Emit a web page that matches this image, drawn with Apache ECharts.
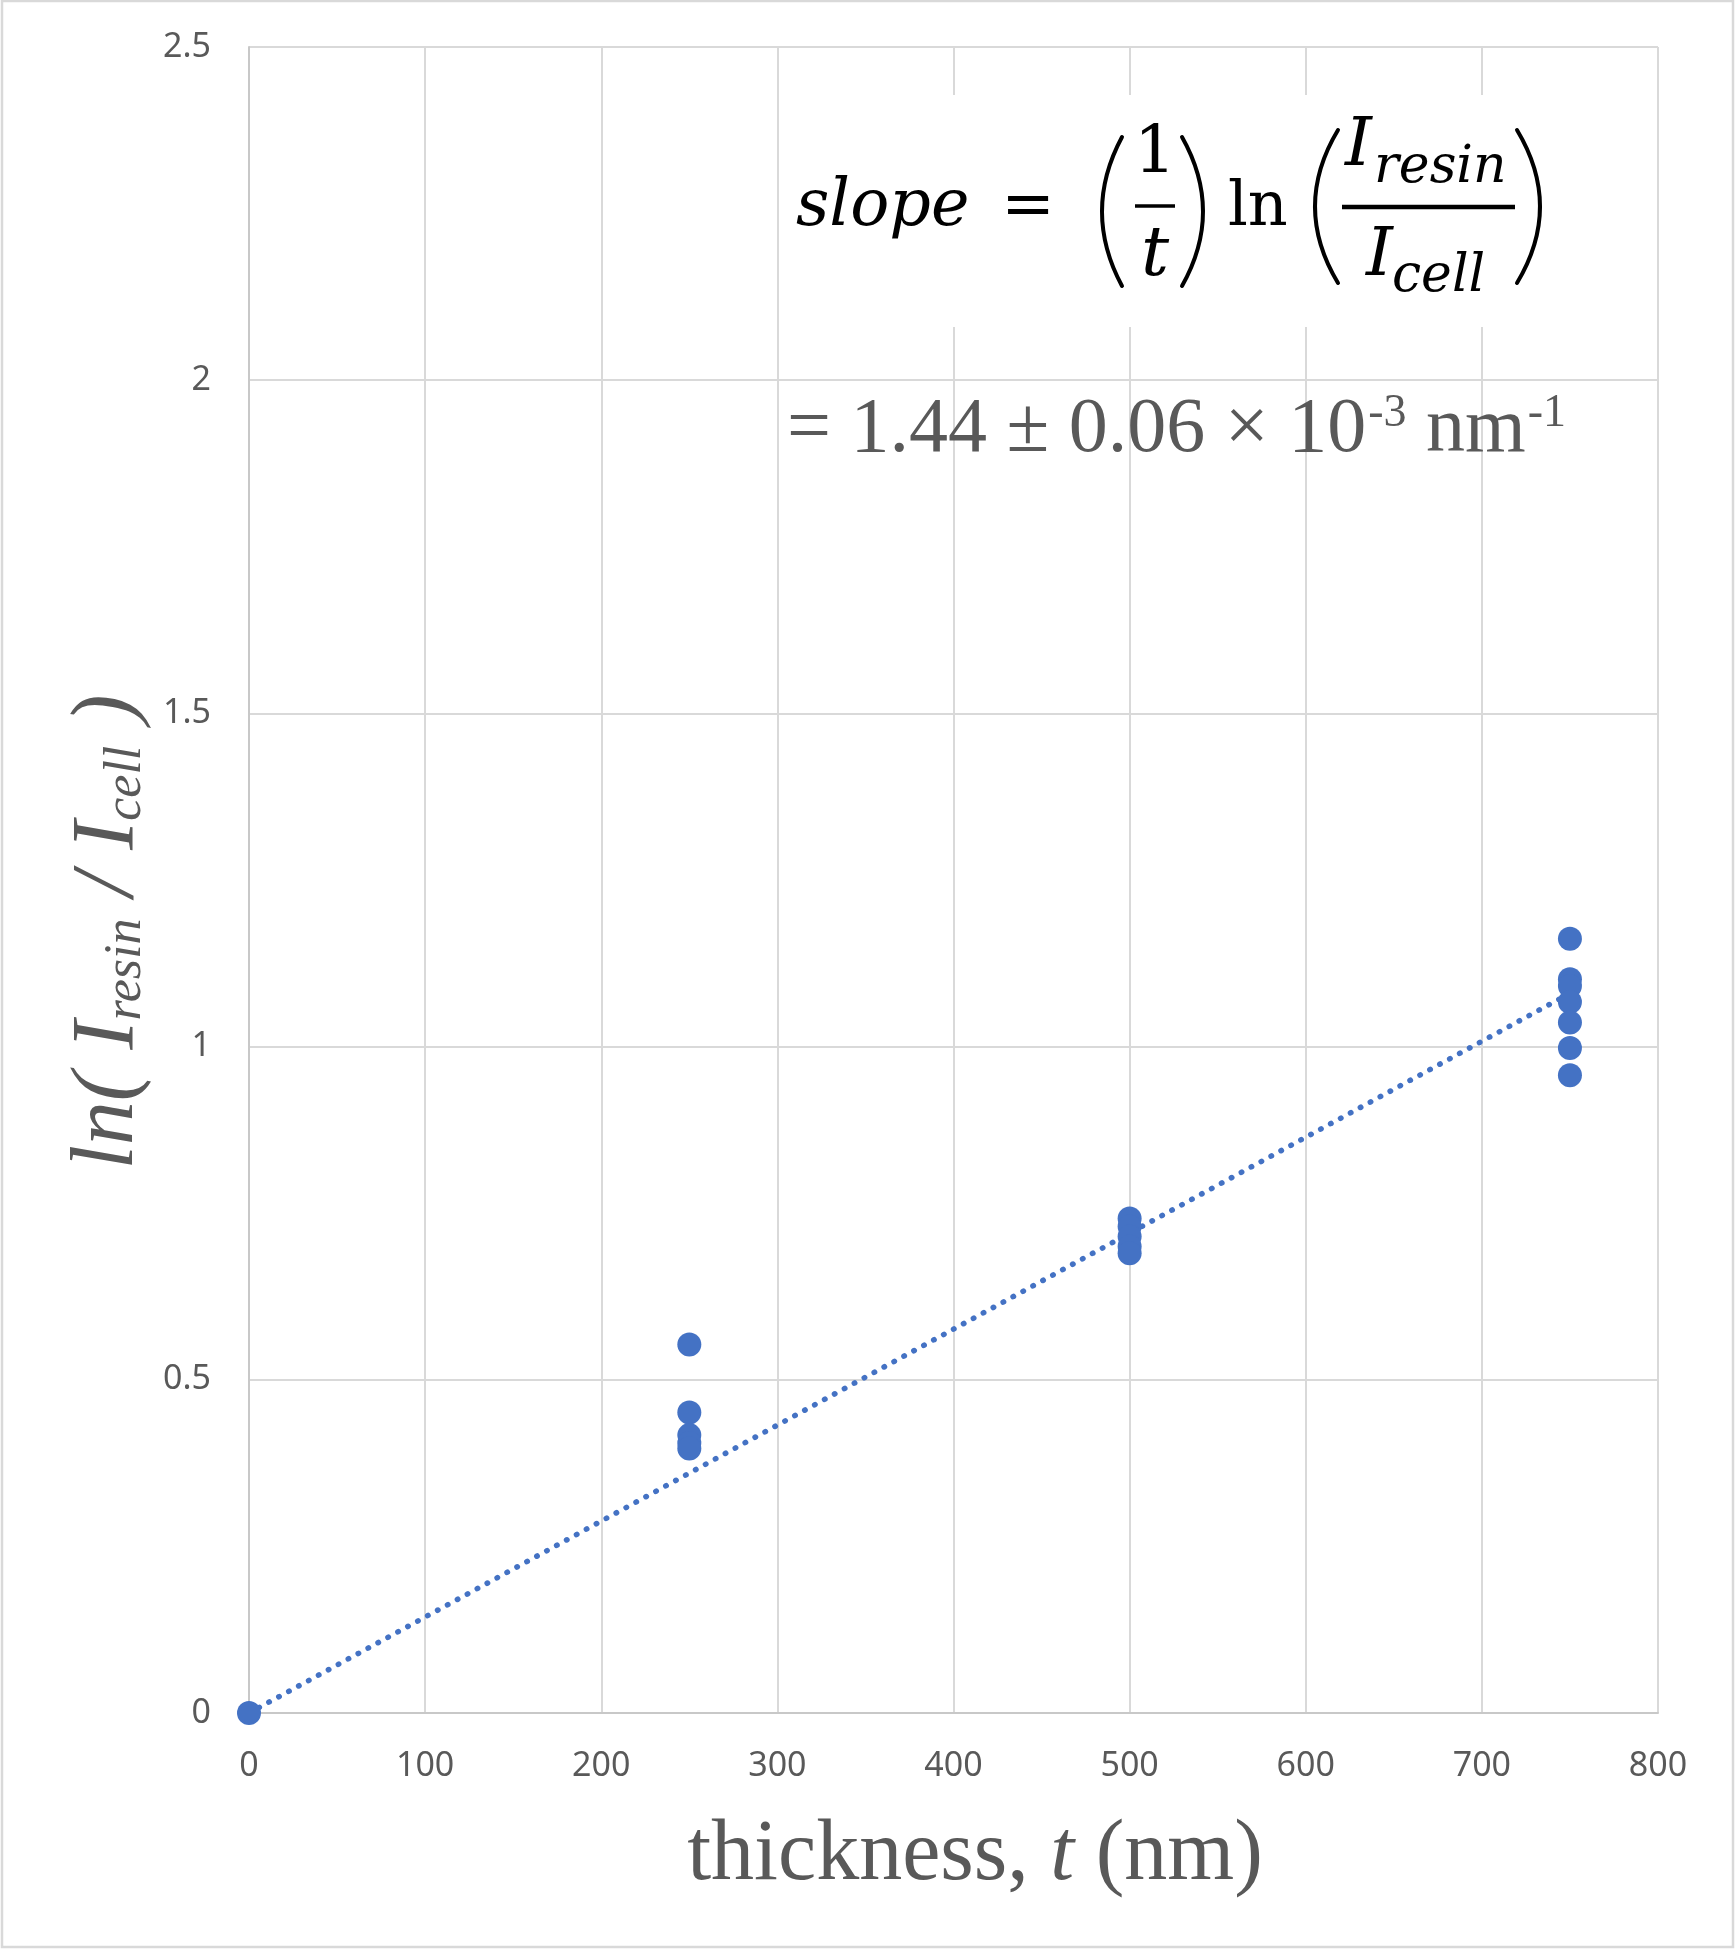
<!DOCTYPE html>
<html>
<head>
<meta charset="utf-8">
<script src="https://cdn.jsdelivr.net/npm/echarts@6/dist/echarts.min.js"></script>
<style>
  * { margin: 0; padding: 0; }
  body { background: #fff; }
  #chart { width: 1736px; height: 1950px; }
</style>
</head>
<body>
<div id="chart"></div>
<script>
// measured points: thickness (nm) vs ln(I_resin / I_cell)
var thickness = [0,
  250, 250, 250, 250, 250,
  500, 500, 500, 500, 500,
  750, 750, 750, 750, 750, 750, 750];
var lnRatio = [0,
  0.553, 0.451, 0.417, 0.405, 0.397,
  0.742, 0.730, 0.715, 0.700, 0.690,
  1.162, 1.101, 1.091, 1.067, 1.036, 0.998, 0.957];

// linear fit through origin (end points)
var trendX = [0, 750];
var trendY = [0, 1.08];

var blue = '#4472C4';
var grey = '#595959';

var chart = echarts.init(document.getElementById('chart'));

// text width helper for laying out the formula pieces
var ctx = document.createElement('canvas').getContext('2d');
function tw(text, font) {
  ctx.font = font;
  return ctx.measureText(text).width;
}
// y for verticalAlign middle so the baseline sits on "base"
function mid(base, size) {
  return base - 0.34 * size;
}

function txt(x, base, text, size, opts) {
  opts = opts || {};
  var font = (opts.italic ? 'italic ' : '') + size + 'px ' + (opts.family || '"DejaVu Serif"');
  return {
    type: 'text', z: 20,
    x: x, y: mid(base, size),
    style: {
      text: text, font: font,
      fill: opts.color || '#000',
      align: opts.align || 'left', verticalAlign: 'middle',
      textAlign: opts.align || 'left', textVerticalAlign: 'middle'
    }
  };
}

function paren(xEnd, xMid, top, bottom) {
  return {
    type: 'bezierCurve', z: 20,
    shape: { x1: xEnd, y1: top, x2: xEnd, y2: bottom, cpx1: 2 * xMid - xEnd, cpy1: (top + bottom) / 2 },
    style: { stroke: '#000', lineWidth: 4, fill: null, lineCap: 'round' }
  };
}

function bar(x1, x2, y, w) {
  return {
    type: 'line', z: 20,
    shape: { x1: x1, y1: y, x2: x2, y2: y },
    style: { stroke: '#000', lineWidth: w }
  };
}

var graphics = [];

// outer chart border
graphics.push({
  type: 'rect', z: 1, silent: true,
  shape: { x: 2, y: 1, width: 1731, height: 1946 },
  style: { fill: null, stroke: '#d9d9d9', lineWidth: 2.5 }
});

// white box behind the slope formula picture
graphics.push({
  type: 'rect', z: 15,
  shape: { x: 785, y: 95, width: 815, height: 232 },
  style: { fill: '#fff' }
});

// slope = (1/t) ln(I_resin / I_cell)
graphics.push(txt(796, 230, 'slope', 65, { italic: true }));
graphics.push(txt(1028, 230, '=', 64, { align: 'center' }));
graphics.push(paren(1122, 1102, 137, 286));
graphics.push(txt(1155, 177, '1', 66, { align: 'center' }));
graphics.push(bar(1135, 1175, 206, 3.5));
graphics.push(txt(1155, 281, 't', 70, { italic: true, align: 'center' }));
graphics.push(paren(1182, 1203, 137, 286));
graphics.push(txt(1228, 230, 'ln', 62));
graphics.push(paren(1338, 1315, 130, 283));
graphics.push(txt(1345, 170, 'I', 68, { italic: true }));
graphics.push(txt(1374, 186, 'resin', 52, { italic: true }));
graphics.push(bar(1342, 1515, 207, 4.5));
graphics.push(txt(1366, 280, 'I', 68, { italic: true }));
graphics.push(txt(1392, 295, 'cell', 52, { italic: true }));
graphics.push(paren(1517, 1540, 130, 283));

// = 1.44 ± 0.06 × 10^-3 nm^-1
(function () {
  var big = 78, small = 46, fam = '"Liberation Serif"';
  var x = 787;
  var parts = [
    ['= 1.44 \u00b1 0.06 \u00d7 10', big, 457],
    ['-3', small, 430],
    [' nm', big, 457],
    ['-1', small, 430]
  ];
  parts.forEach(function (p, i) {
    if (i === 1 || i === 3) x += 2;
    graphics.push(txt(x, p[2], p[0], p[1], { family: fam, color: grey }));
    x += tw(p[0], p[1] + 'px ' + fam);
  });
})();

// x axis title
graphics.push({
  type: 'text', z: 20,
  x: 975, y: mid(1886, 86),
  style: {
    text: 'thickness, {i|t} (nm)',
    font: '86px "Liberation Serif"', fill: grey,
    align: 'center', verticalAlign: 'middle',
    textAlign: 'center', textVerticalAlign: 'middle',
    rich: { i: { fontStyle: 'italic', fontSize: 86, fontFamily: 'Liberation Serif', fill: grey, color: grey } }
  }
});

// y axis title, rotated, with subscripts
(function () {
  var main = 88, sub = 52, fam = '"Liberation Serif"';
  var parts = [
    ['ln( ', main, 0], ['I', main, 0], ['resin', sub, 5],
    [' / ', main, 0], ['I', main, 0], ['cell', sub, 5], [' )', main, 0]
  ];
  var total = 0;
  parts.forEach(function (p) { total += tw(p[0], 'italic ' + p[1] + 'px ' + fam); });
  var x = -total / 2;
  var kids = [];
  parts.forEach(function (p) {
    kids.push(txt(x, p[2], p[0], p[1], { italic: true, family: fam, color: grey }));
    x += tw(p[0], 'italic ' + p[1] + 'px ' + fam);
  });
  graphics.push({ type: 'group', x: 139, y: 932, rotation: Math.PI / 2, children: kids });
})();

var points = thickness.map(function (t, i) { return [t, lnRatio[i]]; });
var trend = trendX.map(function (t, i) { return [t, trendY[i]]; });

chart.setOption({
  animation: false,
  backgroundColor: '#fff',
  grid: { left: 249, right: 78, top: 47, bottom: 237 },
  xAxis: {
    type: 'value', min: 0, max: 800, interval: 100,
    axisLine: { show: true, onZero: false, lineStyle: { color: '#c8c8c8', width: 2 } },
    axisTick: { show: false },
    splitLine: { show: true, lineStyle: { color: '#d9d9d9', width: 2 } },
    axisLabel: { margin: 36, fontSize: 34, fontFamily: 'Noto Sans', color: grey }
  },
  yAxis: {
    type: 'value', min: 0, max: 2.5, interval: 0.5,
    axisLine: { show: true, onZero: false, lineStyle: { color: '#c8c8c8', width: 2 } },
    axisTick: { show: false },
    splitLine: { show: true, lineStyle: { color: '#d9d9d9', width: 2 } },
    axisLabel: { margin: 38, fontSize: 34, fontFamily: 'Noto Sans', color: grey }
  },
  series: [
    {
      type: 'line', data: trend, symbol: 'none', z: 3,
      lineStyle: { color: blue, width: 5.5, type: [0.5, 10.8], cap: 'round' }
    },
    {
      type: 'scatter', data: points, symbol: 'circle', symbolSize: 24, z: 4,
      itemStyle: { color: blue, opacity: 1 }
    }
  ],
  graphic: graphics
});
</script>
</body>
</html>
